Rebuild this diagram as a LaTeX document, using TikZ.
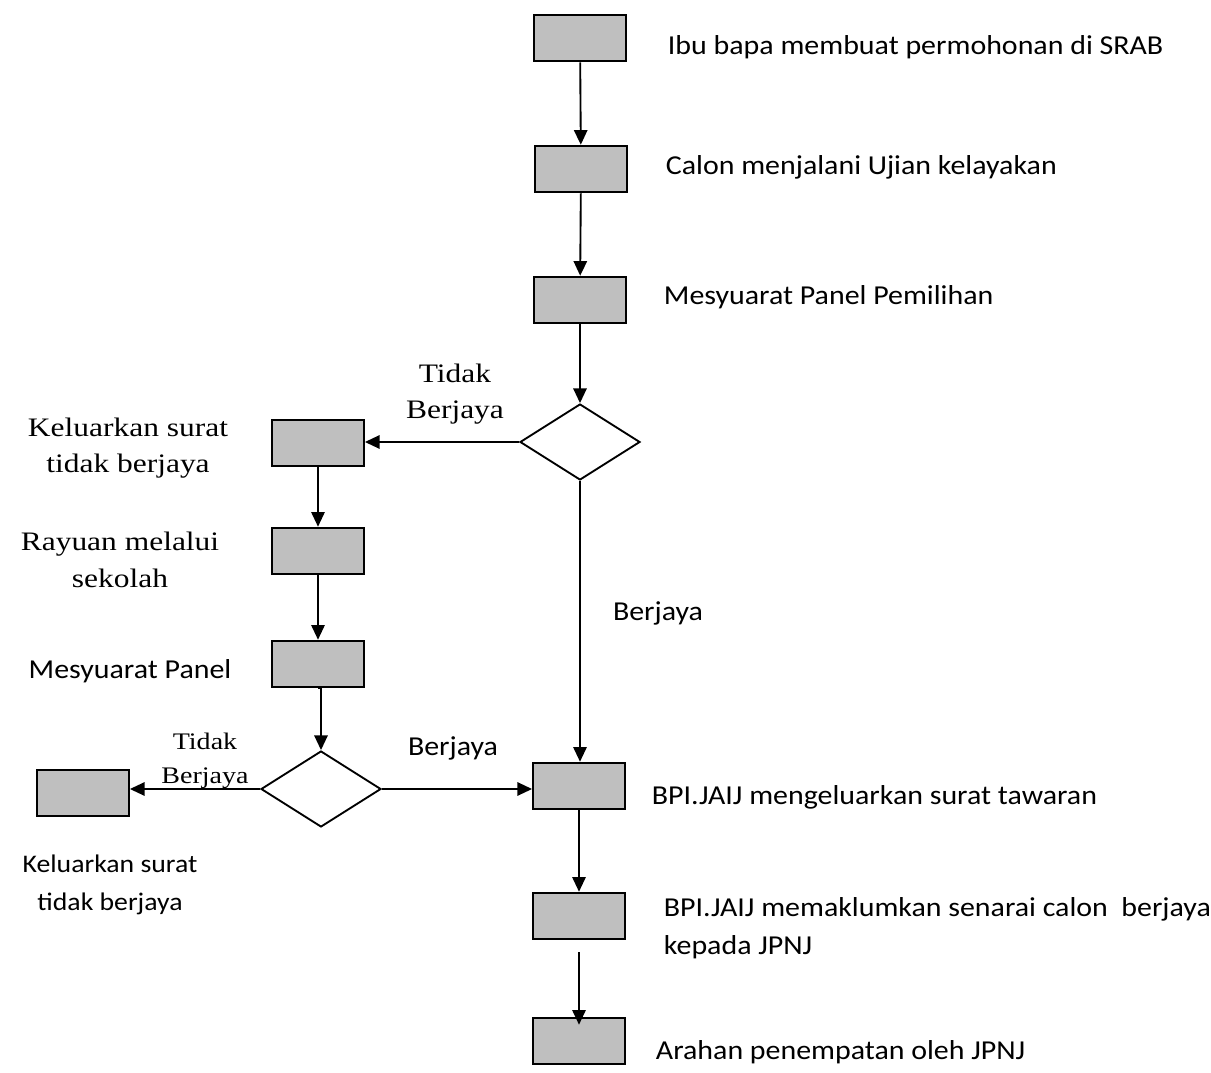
\documentclass[tikz,border=0pt]{standalone}
\usepackage{fontspec}
\setmainfont[FakeStretch=1.095]{Carlito}
\newfontfamily\seriffont[FakeStretch=1.18]{Liberation Serif}
\usetikzlibrary{arrows.meta}
\usetikzlibrary{shapes.geometric}
\usetikzlibrary{positioning}
\tikzset{->, > = {Triangle[length=11pt, width=10pt]},
  box/.style = {draw, fill = black!25, minimum width = 69pt, minimum height = 35pt, inner sep = 0pt},
  choice/.style = {draw, diamond, fill = white, minimum width = 90pt, minimum height = 57pt, inner sep = 0pt},
  say/.style = {font = \fontsize{20.5pt}{28.5pt}\selectfont, align = left, inner sep = 0pt},
  saysrf/.style = {font = \seriffont\fontsize{20pt}{27.5pt}\selectfont, align = center, inner sep = 0pt}}

\begin{document}
\begin{tikzpicture}[x = 0.75pt, y = -0.75pt, line width = 1.4pt]
  \useasboundingbox (0,0) rectangle (1211,1073);
  % nodes
  \node (srab) [box] at (580,38) {};
  \node (ujian) [box] at (581,169) {};
  \node (panel) [box] at (580,300) {};
  \node (pilih) [choice] at (580,442) {};
  \node (gagal) [box] at (318,443) {};
  \node (rayuan) [box] at (318,551) {};
  \node (panel2) [box] at (318,664) {};
  \node (pilih2) [choice] at (321,789) {};
  \node (gagal2) [box] at (83,793) {};
  \node (tawaran) [box] at (579,786) {};
  \node (senarai) [box] at (579,916) {};
  \node (arahan) [box] at (579,1041) {};
  % texts
  \node (tsrab) [say, anchor = west] at (667,47) {Ibu bapa membuat permohonan di SRAB};
  \node (tujian) [say, anchor = west] at (665,167) {Calon menjalani Ujian kelayakan};
  \node (tpanel) [say, anchor = west] at (663,297) {Mesyuarat Panel Pemilihan};
  \node (ttidak) [saysrf] at (455,394) {Tidak\\Berjaya};
  \node (tgagal) [saysrf] at (128,448) {Keluarkan surat\\tidak berjaya};
  \node (trayuan) [saysrf] at (120,560) {Rayuan melalui\\sekolah};
  \node (tlulus) [say] at (658,613) {Berjaya};
  \node (tpanel2) [say] at (130,671) {Mesyuarat Panel};
  \node (ttidak2) [saysrf, font = \seriffont\fontsize{17.8pt}{25.5pt}\selectfont] at (205,761) {Tidak\\Berjaya};
  \node (tlulus2) [say] at (453,748) {Berjaya};
  \node (ttawaran) [say, anchor = west] at (651,797) {BPI.JAIJ mengeluarkan surat tawaran};
  \node (tsenarai) [say, anchor = west] at (663,928) {BPI.JAIJ memaklumkan senarai calon\ \ berjaya\\kepada JPNJ};
  \node (tgagal2) [say, align = center, font = \fontsize{19pt}{29pt}\selectfont] at (110,885) {Keluarkan surat\\tidak berjaya};
  \node (tarahan) [say, anchor = west] at (655,1052) {Arahan penempatan oleh JPNJ};
  % edges
  \draw (srab) -- (ujian);
  \draw (ujian) -- (panel);
  \draw (panel) -- (pilih);
  \draw (pilih.west) -- (pilih.west -| gagal.east);
  \draw (pilih.south) -- (pilih.south |- tawaran.north);
  \draw (gagal) -- (rayuan);
  \draw (rayuan) -- (panel2);
  \draw (panel2.south) -- (panel2.south -| pilih2.north) -- (pilih2.north);
  \draw (pilih2.west) -- (pilih2.west -| gagal2.east);
  \draw (pilih2.east) -- (pilih2.east -| tawaran.west);
  \draw (tawaran) -- (senarai);
  \draw ([yshift = -9pt] senarai.south) -- ([yshift = -6pt] arahan.north);
\end{tikzpicture}
\end{document}
